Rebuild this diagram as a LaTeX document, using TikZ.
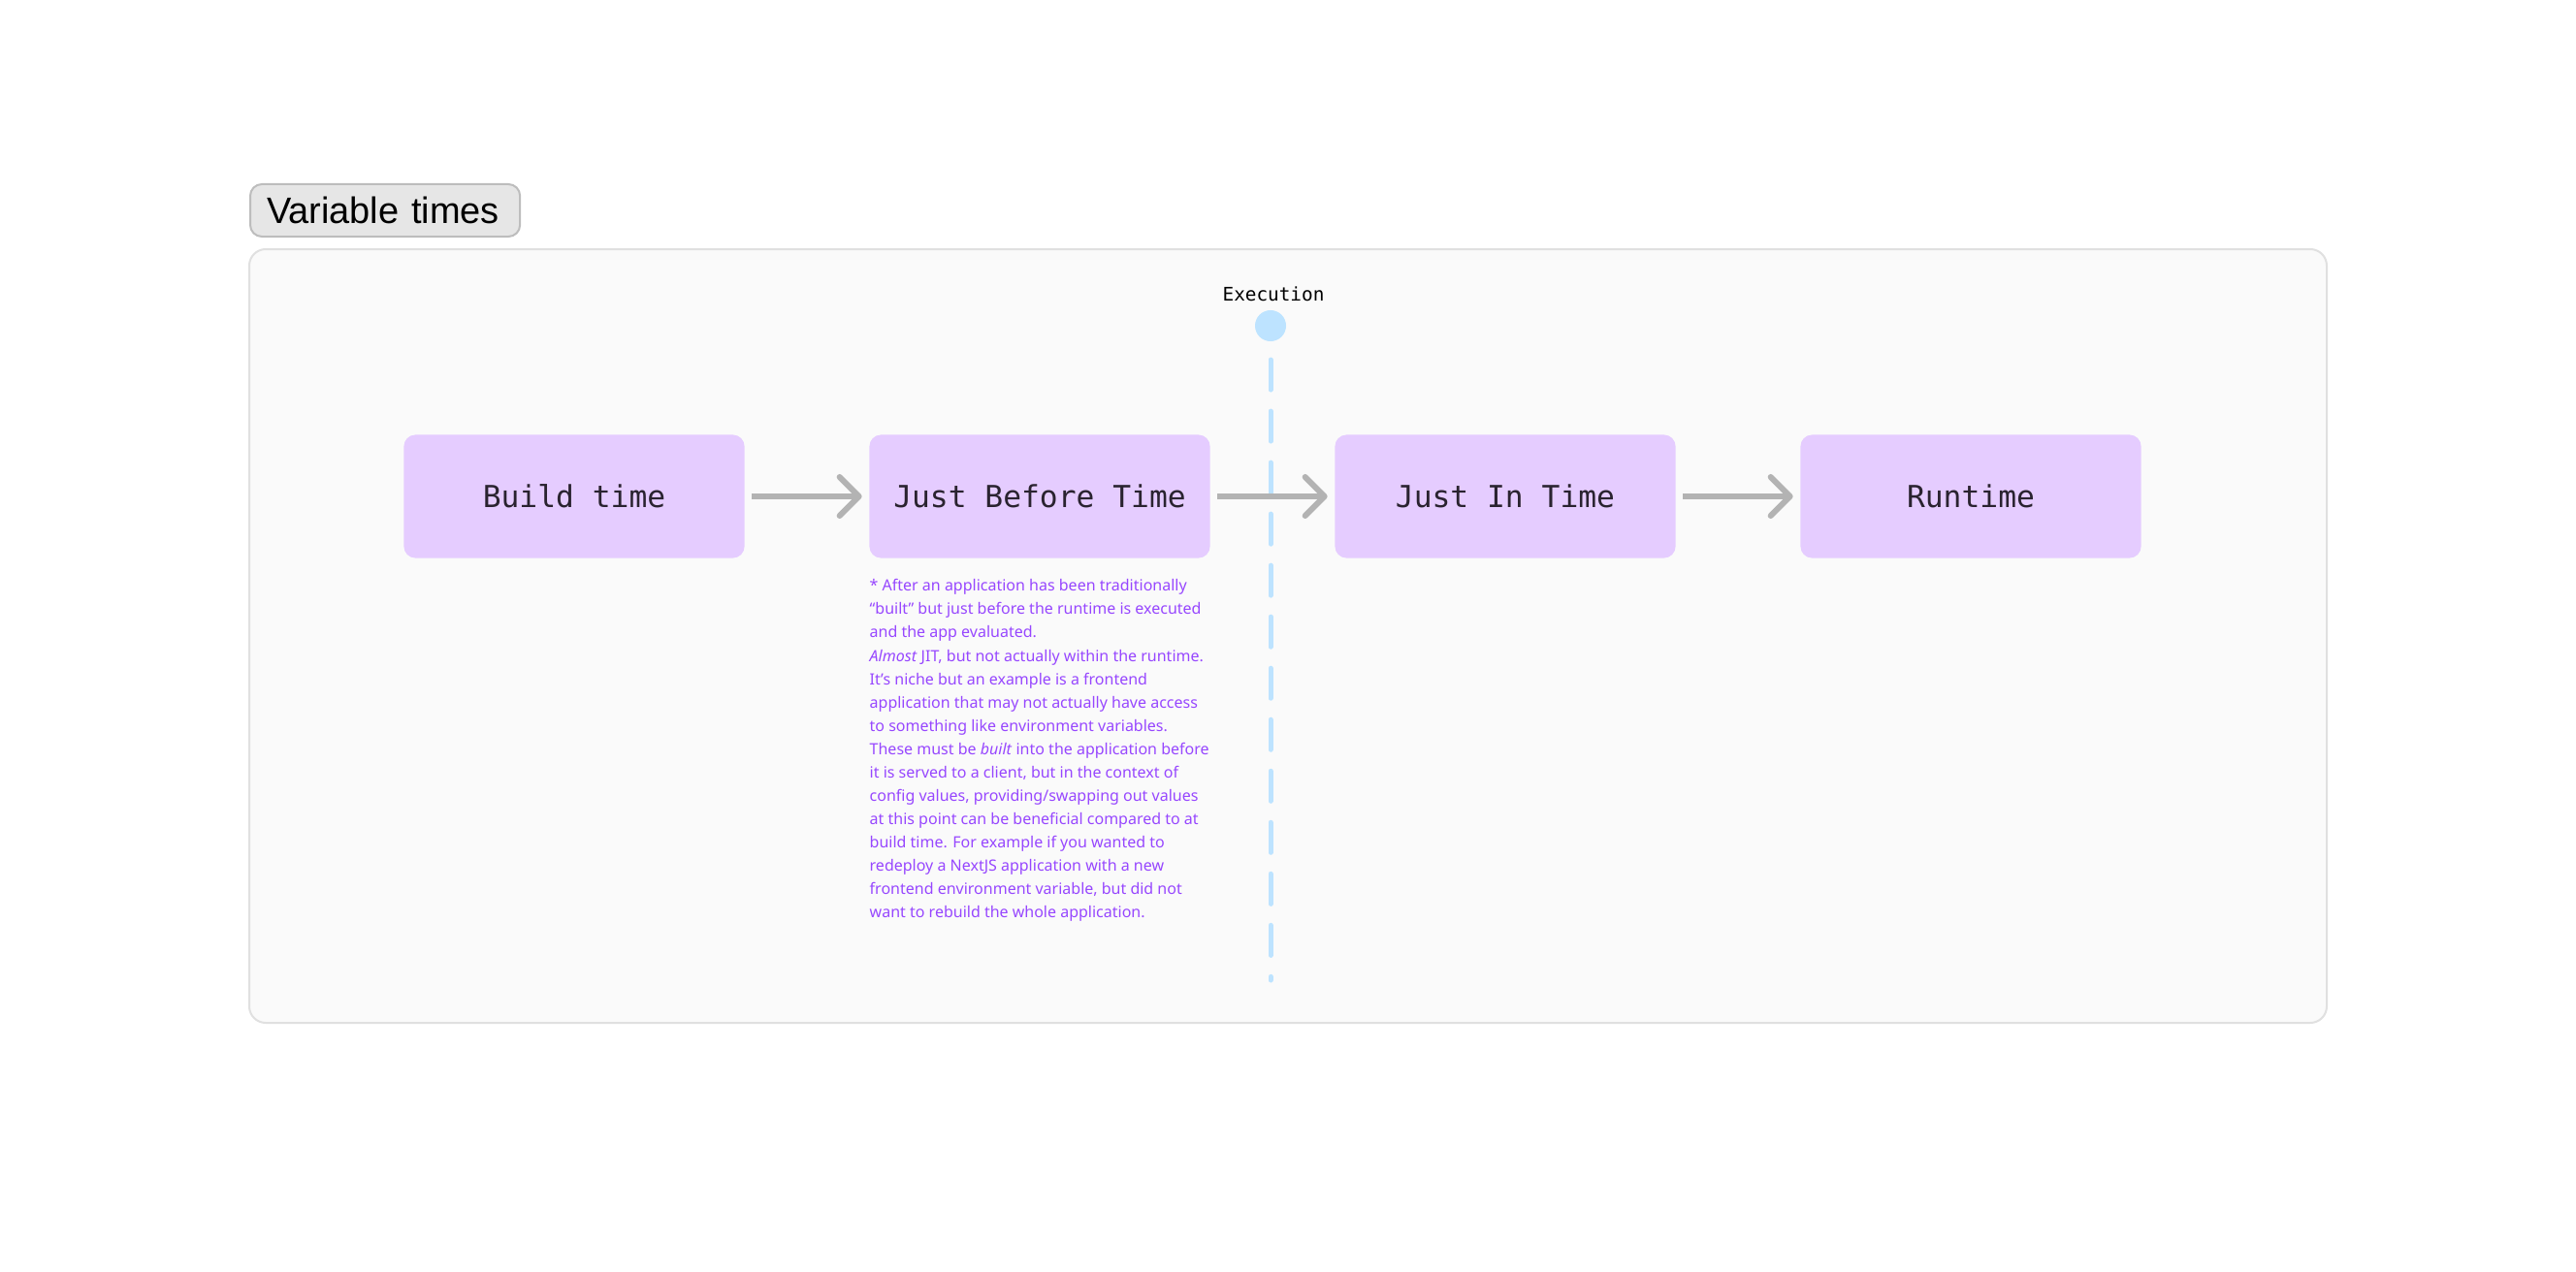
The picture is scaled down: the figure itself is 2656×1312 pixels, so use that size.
\documentclass[tikz,border=0pt]{standalone}
\usepackage{fontspec}
\setmainfont{Noto Sans}
\newfontfamily\monofont{DejaVu Sans Mono}
\newfontfamily\titlefont{Liberation Sans}
\usepackage{tikz}
\usetikzlibrary{arrows.meta,positioning}

\definecolor{panelfill}{HTML}{FAFAFA}
\definecolor{panelline}{HTML}{E0E0E0}
\definecolor{tagfill}{HTML}{E6E6E6}
\definecolor{tagline}{HTML}{BDBDBD}
\definecolor{stagefill}{HTML}{E5CCFF}
\definecolor{stagetext}{HTML}{2A2330}
\definecolor{flowgray}{HTML}{B3B3B3}
\definecolor{execblue}{HTML}{BDE3FF}
\definecolor{notepurple}{HTML}{9747FF}

\begin{document}
\begin{tikzpicture}[x=0.01cm, y=-0.01cm,
				stage/.style={rectangle, rounded corners=0.12cm, fill=stagefill, text=stagetext, minimum width=3.51cm, minimum height=1.27cm, inner sep=0pt, font=\monofont\fontsize{8.9pt}{10pt}\selectfont},
				flow/.style={-{Straight Barb[length=0.2cm, width=0.4cm, round]}, line width=0.06cm, draw=flowgray, shorten <=0.07cm, shorten >=0.07cm},
				timeline/.style={line width=0.05cm, draw=execblue, line cap=round, dash pattern=on 0.31cm off 0.22cm, dash phase=0.2cm},
				note/.style={anchor=north west, inner sep=0pt, align=left, text=notepurple, font=\fontsize{4.55pt}{6.83pt}\selectfont}]
				\useasboundingbox (0,0) rectangle (2656,1312);
				\draw [fill=panelfill, draw=panelline, line width=0.02cm, rounded corners=0.17cm] (257,257) rectangle (2399,1055);
				\node [rectangle, rounded corners=0.12cm, fill=tagfill, draw=tagline, line width=0.02cm, anchor=west, text width=2.44cm, inner xsep=0.17cm, minimum height=0.54cm, inner ysep=0pt, align=left, font=\titlefont\fontsize{10.8pt}{13pt}\selectfont] (tag) at (257,217) {Variable times};
				\node [stage] (build) at (592,512) {Build time};
				\node [stage] (before) at (1072,512) {Just Before Time};
				\node [stage] (jit) at (1552,512) {Just In Time};
				\node [stage] (runtime) at (2032,512) {Runtime};
				\coordinate (exectop) at (1310,338);
				\coordinate (execend) at (1310,1011);
				\draw [timeline] (exectop) -- (execend);
				\node [circle, fill=execblue, minimum size=0.32cm, inner sep=0pt] (exec) at (1310,336) {};
				\node [above=0.08cm of exec, xshift=0.03cm, inner sep=0pt, font=\monofont\fontsize{5.5pt}{6.6pt}\selectfont] (execlabel) {Execution};
				\draw [flow] (build) -- (before);
				\draw [flow] (before) -- (jit);
				\draw [flow] (jit) -- (runtime);
				\node [note] (beforenote) at (896,597) {* After an application has been traditionally\\
					“built” but just before the runtime is executed\\
					and the app evaluated.\\
					\textit{Almost} JIT, but not actually within the runtime.\\
					It’s niche but an example is a frontend\\
					application that may not actually have access\\
					to something like environment variables.\\
					These must be \textit{built} into the application before\\
					it is served to a client, but in the context of\\
					config values, providing/swapping out values\\
					at this point can be beneficial compared to at\\
					build time. For example if you wanted to\\
					redeploy a NextJS application with a new\\
					frontend environment variable, but did not\\
					want to rebuild the whole application.};
\end{tikzpicture}
\end{document}
